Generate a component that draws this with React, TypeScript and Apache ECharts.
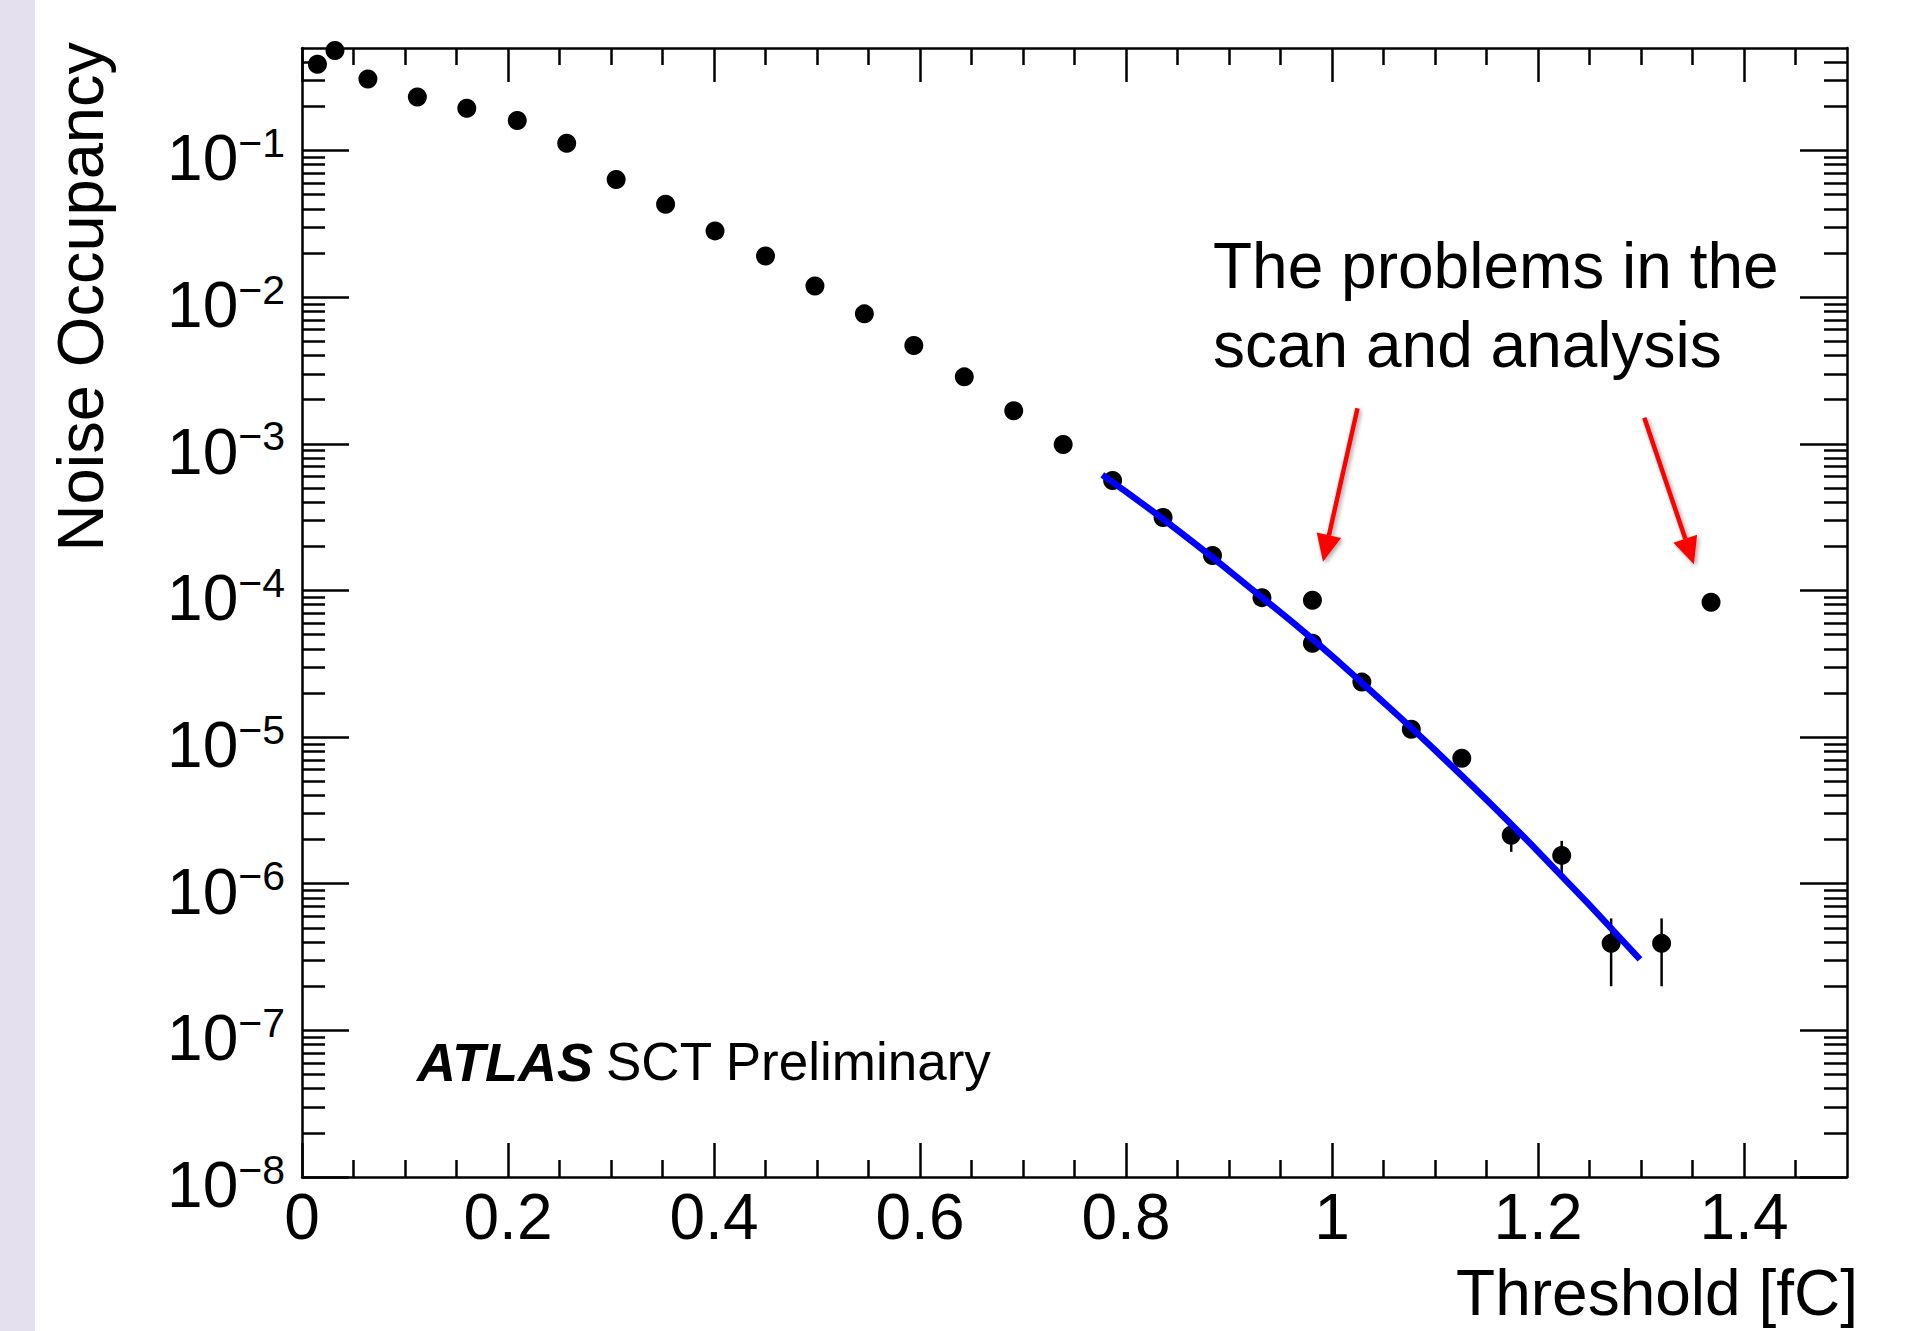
import React, { useEffect, useRef } from 'react';
import * as echarts from 'echarts';

const FONT = '"Liberation Sans", Arial, Helvetica, sans-serif';

// Measured points: threshold [fC] and noise occupancy
const thresholds = [
  0.015, 0.032, 0.064, 0.112, 0.160, 0.209, 0.257, 0.305, 0.353, 0.401,
  0.450, 0.498, 0.546, 0.594, 0.643, 0.691, 0.739, 0.787, 0.836, 0.884,
  0.932, 0.981, 0.981, 1.029, 1.077, 1.126, 1.174, 1.223, 1.271, 1.320, 1.368,
];
const occupancy = [
  0.388, 0.481, 0.307, 0.232, 0.194, 0.160, 0.112, 0.0634, 0.0430, 0.0283,
  0.0191, 0.0119, 0.00769, 0.00468, 0.00286, 0.00168, 0.000988, 0.000561, 0.000314, 0.000173,
  8.93e-5, 8.57e-5, 4.36e-5, 2.37e-5, 1.13e-5, 7.16e-6, 2.14e-6, 1.56e-6, 3.92e-7, 3.92e-7, 8.31e-5,
];

// Visible vertical error bars
const errX = [1.174, 1.223, 1.271, 1.320];
const errLow = [1.65e-6, 1.16e-6, 2.0e-7, 2.0e-7];
const errHigh = [2.63e-6, 1.96e-6, 5.8e-7, 5.8e-7];

// Fit curve (blue)
const fitX = [0.777, 0.85, 0.936, 0.981, 1.03, 1.098, 1.2, 1.299];
const fitY = [6.14e-4, 2.58e-4, 8.5e-5, 4.66e-5, 2.31e-5, 8.4e-6, 1.66e-6, 3.05e-7];

// Axes
const xMin = 0;
const xMax = 1.5;
const xMajor = [0, 0.2, 0.4, 0.6, 0.8, 1, 1.2, 1.4];
const xMinor = [
  0.05, 0.1, 0.15, 0.25, 0.3, 0.35, 0.45, 0.5, 0.55, 0.65, 0.7, 0.75,
  0.85, 0.9, 0.95, 1.05, 1.1, 1.15, 1.25, 1.3, 1.35, 1.45,
];
const yMin = 1e-8;
const yMax = 0.5;
const yMajorExp = [-8, -7, -6, -5, -4, -3, -2, -1];
const yMinorMantissa = [2, 3, 4, 5, 6, 7, 8, 9];

const xTitle = 'Threshold [fC]';
const yTitle = 'Noise Occupancy';
const annotationLines = ['The problems in the', 'scan and analysis'];

export default function App() {
  const ref = useRef<HTMLDivElement>(null);

  useEffect(() => {
    const chart = echarts.init(ref.current!, null, { renderer: 'svg' });

    const logMax = Math.log10(yMax);
    const yMinorPos: number[] = [];
    yMajorExp.forEach((k) => {
      yMinorMantissa.forEach((m) => {
        if (m * Math.pow(10, k) < yMax) yMinorPos.push(k + Math.log10(m));
      });
    });

    const black = '#000000';
    const lineStyle = { color: black, width: 2.5 };
    const tickStyle = { color: black, width: 2.5 };
    const shadow = { shadowBlur: 4, shadowColor: 'rgba(0,0,0,0.35)', shadowOffsetX: 2, shadowOffsetY: 2 };

    const xBase: any = {
      type: 'value', min: xMin, max: xMax,
      splitLine: { show: false },
      axisLine: { show: false, onZero: false },
      axisLabel: { show: false },
      axisTick: { show: false },
    };
    const yBase: any = {
      type: 'value', min: -8, max: logMax,
      splitLine: { show: false },
      axisLine: { show: false, onZero: false },
      axisLabel: { show: false },
      axisTick: { show: false },
    };

    const option: any = {
      animation: false,
      backgroundColor: '#ffffff',
      grid: {
        left: 302, top: 48, width: 1545, height: 1129,
        containLabel: false, outerBoundsMode: 'none',
      },
      xAxis: [
        {
          ...xBase, position: 'bottom',
          axisLine: { show: true, onZero: false, lineStyle },
          axisTick: { show: true, inside: true, length: 34, lineStyle: tickStyle, customValues: xMajor },
          axisLabel: {
            show: true, customValues: xMajor, margin: 8,
            fontSize: 64, fontFamily: FONT, color: black,
            formatter: (v: number) => String(v),
          },
        },
        {
          ...xBase, position: 'bottom',
          axisTick: { show: true, inside: true, length: 17, lineStyle: tickStyle, customValues: xMinor },
        },
        {
          ...xBase, position: 'top',
          axisLine: { show: true, onZero: false, lineStyle },
          axisTick: { show: true, inside: true, length: 34, lineStyle: tickStyle, customValues: xMajor },
        },
        {
          ...xBase, position: 'top',
          axisTick: { show: true, inside: true, length: 17, lineStyle: tickStyle, customValues: xMinor },
        },
      ],
      yAxis: [
        {
          type: 'log', logBase: 10, min: yMin, max: yMax, position: 'left',
          splitLine: { show: false },
          axisLine: { show: true, onZero: false, lineStyle },
          axisTick: { show: false },
          axisLabel: { show: false },
        },
        {
          ...yBase, position: 'left',
          axisTick: { show: true, inside: true, length: 47, lineStyle: tickStyle, customValues: yMajorExp },
          axisLabel: {
            show: true, customValues: yMajorExp, margin: 17,
            formatter: (v: number) => `{b|10}{s|\u2212${Math.round(-v)}}`,
            rich: {
              b: { fontSize: 64, lineHeight: 64, fontFamily: FONT, color: black, padding: [16, 0, 0, 0] },
              s: { fontSize: 41, lineHeight: 41, fontFamily: FONT, color: black, verticalAlign: 'top', padding: [4, 0, 0, 0] },
            },
          },
        },
        {
          ...yBase, position: 'left',
          axisTick: { show: true, inside: true, length: 23, lineStyle: tickStyle, customValues: yMinorPos },
        },
        {
          ...yBase, position: 'right',
          axisLine: { show: true, onZero: false, lineStyle },
          axisTick: { show: true, inside: true, length: 47, lineStyle: tickStyle, customValues: yMajorExp },
        },
        {
          ...yBase, position: 'right',
          axisTick: { show: true, inside: true, length: 23, lineStyle: tickStyle, customValues: yMinorPos },
        },
      ],
      series: [
        {
          type: 'custom', name: 'errors', xAxisIndex: 0, yAxisIndex: 0, z: 2,
          data: errX.map((x, i) => [x, errLow[i], errHigh[i]]),
          encode: { x: 0, y: [1, 2] },
          renderItem: (_p: any, api: any) => {
            const x = api.value(0);
            const a = api.coord([x, api.value(1)]);
            const b = api.coord([x, api.value(2)]);
            return {
              type: 'line',
              shape: { x1: a[0], y1: a[1], x2: b[0], y2: b[1] },
              style: { stroke: black, lineWidth: 2.5 },
            };
          },
        },
        {
          type: 'scatter', name: 'data', xAxisIndex: 0, yAxisIndex: 0, z: 3,
          data: thresholds.map((x, i) => [x, occupancy[i]]),
          symbol: 'circle', symbolSize: 19,
          itemStyle: { color: black, opacity: 1 },
        },
        {
          type: 'line', name: 'fit', xAxisIndex: 0, yAxisIndex: 0, z: 4,
          data: fitX.map((x, i) => [x, fitY[i]]),
          showSymbol: false, symbol: 'none', smooth: true,
          lineStyle: { color: '#0000ff', width: 6.5, opacity: 1 },
        },
      ],
      graphic: [
        { type: 'rect', left: 0, top: 0, z: -1, shape: { width: 35, height: 1331 }, style: { fill: '#e4e0ee' } },
        {
          type: 'text', x: 80, y: 42, rotation: Math.PI / 2,
          style: { text: yTitle, font: `65px ${FONT}`, fill: black, textAlign: 'right', textVerticalAlign: 'middle' },
        },
        {
          type: 'text', x: 1858, y: 1293,
          style: { text: xTitle, font: `64px ${FONT}`, fill: black, textAlign: 'right', textVerticalAlign: 'middle' },
        },
        {
          type: 'text', x: 1213, y: 266,
          style: { text: annotationLines[0], font: `64px ${FONT}`, fill: black, textAlign: 'left', textVerticalAlign: 'middle' },
        },
        {
          type: 'text', x: 1213, y: 344.5,
          style: { text: annotationLines[1], font: `64px ${FONT}`, fill: black, textAlign: 'left', textVerticalAlign: 'middle' },
        },
        {
          type: 'text', x: 417, y: 1061.6,
          style: { text: 'ATLAS', font: `italic bold 54px ${FONT}`, fill: black, textAlign: 'left', textVerticalAlign: 'middle' },
        },
        {
          type: 'text', x: 606, y: 1061.6,
          style: { text: 'SCT Preliminary', font: `53px ${FONT}`, fill: black, textAlign: 'left', textVerticalAlign: 'middle' },
        },
        // arrow 1
        {
          type: 'line', shape: { x1: 1357.5, y1: 408.3, x2: 1328.9, y2: 535.4 },
          style: { stroke: '#ff0000', lineWidth: 4.5, ...shadow },
        },
        {
          type: 'polygon', shape: { points: [[1341.1, 538.1], [1323, 561.7], [1316.7, 532.6]] },
          style: { fill: '#ff0000', ...shadow },
        },
        // arrow 2
        {
          type: 'line', shape: { x1: 1644.3, y1: 417.7, x2: 1685.3, y2: 538.7 },
          style: { stroke: '#ff0000', lineWidth: 4.5, ...shadow },
        },
        {
          type: 'polygon', shape: { points: [[1697.1, 534.7], [1693.9, 564.3], [1673.4, 542.7]] },
          style: { fill: '#ff0000', ...shadow },
        },
      ],
    };

    chart.setOption(option);
    return () => chart.dispose();
  }, []);

  return (
    <div
      ref={ref}
      style={{ position: 'absolute', left: 0, top: 0, width: 1915, height: 1331, background: '#ffffff' }}
    />
  );
}
